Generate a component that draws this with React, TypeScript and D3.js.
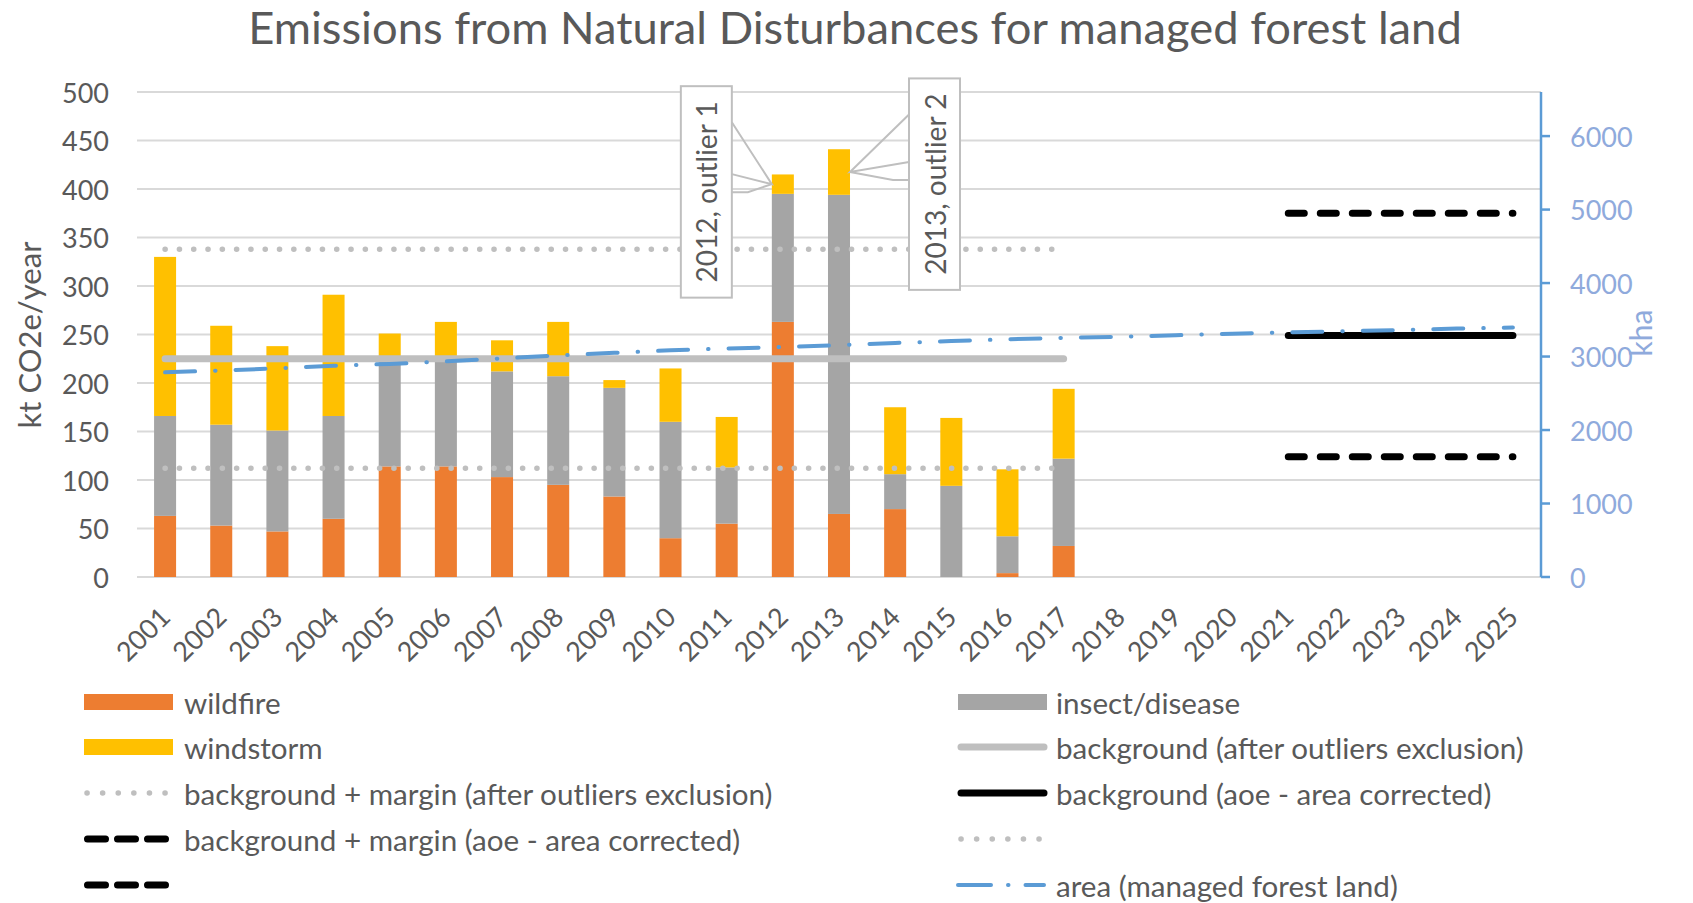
import React from 'react';
import * as d3 from 'd3';

// categories and values
const years = ['2001', '2002', '2003', '2004', '2005', '2006', '2007', '2008', '2009', '2010', '2011', '2012', '2013',
  '2014', '2015', '2016', '2017', '2018', '2019', '2020', '2021', '2022', '2023', '2024', '2025'];
const barYears = years.slice(0, 17);
const wildfire = [63, 53, 47, 60, 114, 114, 103, 95, 83, 40, 55, 263, 65, 70, 0, 4, 32];
const insectDisease = [103, 104, 104, 106, 110, 110, 109, 112, 112, 120, 58, 132, 329, 36, 94, 38, 90];
const windstorm = [164, 102, 87, 125, 27, 39, 32, 56, 8, 55, 52, 20, 47, 69, 70, 69, 72];
const areaKha = [2785, 2810, 2840, 2875, 2900, 2935, 2975, 3015, 3050, 3085, 3110, 3130, 3155, 3185, 3210, 3235,
  3255, 3270, 3290, 3310, 3330, 3345, 3360, 3380, 3395];

const bgExclusion = { from: '2001', to: '2017', value: 225, upper: 338, lower: 112 };
const bgAoe = { from: '2021', to: '2025', value: 249, upper: 375, lower: 124 };

const leftTicks = [0, 50, 100, 150, 200, 250, 300, 350, 400, 450, 500];
const rightTicks = [0, 1000, 2000, 3000, 4000, 5000, 6000];

const callouts = [
  { year: '2012', text: '2012, outlier 1', dx0: -102, dx1: -51, top: 506, bottom: 288 },
  { year: '2013', text: '2013, outlier 2', dx0: 70, dx1: 121, top: 514, bottom: 296 },
];

const W = 1693;
const H = 903;
const plot = { left: 137, right: 1541, top: 92, bottom: 577 };
const FONT = 'Lato, "Noto Sans", sans-serif';
const TEXT = '#595959';
const C = {
  wildfire: '#ED7D31',
  insect: '#A5A5A5',
  wind: '#FFC000',
  bg: '#BFBFBF',
  area: '#5B9BD5',
  axis2: '#8FAADC',
};

export default function App() {
  const x = d3.scaleBand().domain(years).range([plot.left, plot.right]).paddingInner(0.608).paddingOuter(0.304);
  const bw = x.bandwidth();
  const cx = (yr: string) => (x(yr) as number) + bw / 2;
  const y = d3.scaleLinear().domain([0, 500]).range([plot.bottom, plot.top]);
  const y2 = d3.scaleLinear().domain([0, 6600]).range([plot.bottom, plot.top]);

  const rows = barYears.map((yr, i) => ({ year: yr, wildfire: wildfire[i], insect: insectDisease[i], windstorm: windstorm[i] }));
  const stack = d3.stack<any>().keys(['wildfire', 'insect', 'windstorm'])(rows);
  const fills = [C.wildfire, C.insect, C.wind];

  const areaLine = d3.line<number>()
    .x((_, i) => cx(years[i]))
    .y(d => y2(d))(areaKha) as string;

  const hline = (b: { from: string; to: string }, v: number) =>
    d3.line<string>().x(d => cx(d)).y(() => y(v))([b.from, b.to]) as string;

  const dotted = { stroke: C.bg, strokeWidth: 5.5, strokeDasharray: '0.1 14.2', strokeLinecap: 'round' as const, fill: 'none' };
  const dashedBlack = { stroke: '#000', strokeWidth: 7, strokeDasharray: '16 16', strokeLinecap: 'round' as const, fill: 'none' };
  const dashDot = { stroke: C.area, strokeWidth: 4, strokeDasharray: '30 20 0.5 20', strokeLinecap: 'round' as const, fill: 'none' };

  const legendRows = [702, 747, 793, 839, 885];
  const legend = [
    { col: 0, row: 0, kind: 'rect', color: C.wildfire, label: 'wildfire' },
    { col: 1, row: 0, kind: 'rect', color: C.insect, label: 'insect/disease' },
    { col: 0, row: 1, kind: 'rect', color: C.wind, label: 'windstorm' },
    { col: 1, row: 1, kind: 'solidGray', label: 'background (after outliers exclusion)' },
    { col: 0, row: 2, kind: 'dotted', label: 'background + margin (after outliers exclusion)' },
    { col: 1, row: 2, kind: 'solidBlack', label: 'background (aoe - area corrected)' },
    { col: 0, row: 3, kind: 'dashed', label: 'background + margin (aoe - area corrected)' },
    { col: 1, row: 3, kind: 'dotted', label: '' },
    { col: 0, row: 4, kind: 'dashed', label: '' },
    { col: 1, row: 4, kind: 'dashDot', label: 'area (managed forest land)' },
  ];
  const colX = [84, 958];

  return (
    <svg width={W} height={H} style={{ position: 'absolute', left: 0, top: 0, background: '#fff' }} fontFamily={FONT}>
      <rect width={W} height={H} fill="#fff" />
      <text x={855} y={44} textAnchor="middle" fontSize={45.3} fill={TEXT}>
        Emissions from Natural Disturbances for managed forest land
      </text>

      {/* gridlines */}
      {leftTicks.map(t => (
        <line key={t} x1={plot.left} x2={plot.right} y1={y(t)} y2={y(t)} stroke="#D9D9D9" strokeWidth={2} />
      ))}

      {/* left axis labels */}
      {leftTicks.map(t => (
        <text key={'l' + t} x={109} y={y(t)} textAnchor="end" dominantBaseline="central" fontSize={27} fill={TEXT}>{t}</text>
      ))}
      <text transform={`translate(29,335) rotate(-90)`} textAnchor="middle" dominantBaseline="central" fontSize={31} fill={TEXT}>
        kt CO2e/year
      </text>

      {/* right axis */}
      <line x1={plot.right} x2={plot.right} y1={plot.top} y2={plot.bottom} stroke={C.area} strokeWidth={2.5} />
      {rightTicks.map(t => (
        <g key={'r' + t}>
          <line x1={plot.right} x2={plot.right + 9} y1={y2(t)} y2={y2(t)} stroke={C.area} strokeWidth={2.5} />
          <text x={1570} y={y2(t)} dominantBaseline="central" fontSize={27} fill={C.axis2}>{t}</text>
        </g>
      ))}
      <text transform={`translate(1640,333) rotate(-90)`} textAnchor="middle" dominantBaseline="central" fontSize={30} fill={C.axis2}>
        kha
      </text>

      {/* stacked bars */}
      {stack.map((s, si) => (
        <g key={si} fill={fills[si]}>
          {s.map((d, i) => (
            <rect key={i} x={x(barYears[i])} width={bw} y={y(d[1])} height={Math.max(0, y(d[0]) - y(d[1]))} />
          ))}
        </g>
      ))}

      {/* background lines */}
      <path d={hline(bgExclusion, bgExclusion.upper)} {...dotted} />
      <path d={hline(bgExclusion, bgExclusion.lower)} {...dotted} />
      <path d={hline(bgExclusion, bgExclusion.value)} stroke={C.bg} strokeWidth={7} strokeLinecap="round" fill="none" />
      <path d={hline(bgAoe, bgAoe.upper)} {...dashedBlack} />
      <path d={hline(bgAoe, bgAoe.lower)} {...dashedBlack} />
      <path d={hline(bgAoe, bgAoe.value)} stroke="#000" strokeWidth={7} strokeLinecap="round" fill="none" />

      {/* area on secondary axis */}
      <path d={areaLine} {...dashDot} />

      {/* x labels */}
      {years.map(yr => (
        <text key={yr} transform={`translate(${cx(yr) + 7},619) rotate(-45)`} textAnchor="end" fontSize={27} fill={TEXT}>{yr}</text>
      ))}

      {/* callouts */}
      {callouts.map((c, i) => {
        const k = barYears.indexOf(c.year);
        const cxx = cx(c.year);
        const bx0 = cxx + c.dx0;
        const bx1 = cxx + c.dx1;
        const top = y(c.top);
        const bot = y(c.bottom);
        const tipY = (y(wildfire[k] + insectDisease[k]) + y(wildfire[k] + insectDisease[k] + windstorm[k])) / 2;
        const right = c.dx0 < 0;
        const tipX = right ? cxx - bw / 2 : cxx + bw / 2;
        const edge = right ? bx1 : bx0;
        const sgn = right ? 1 : -1;
        const boxMid = (bx0 + bx1) / 2;
        return (
          <g key={i}>
            <rect x={bx0} y={top} width={bx1 - bx0} height={bot - top} fill="#fff" stroke={C.bg} strokeWidth={2} />
            <polyline points={`${edge},${top + 36} ${tipX},${tipY} ${edge},${tipY - 10}`} fill="none" stroke={C.bg} strokeWidth={2} />
            <polyline points={`${tipX},${tipY} ${edge + sgn * 16},${tipY + 8} ${edge},${tipY + 8}`} fill="none" stroke={C.bg} strokeWidth={2} />
            <text transform={`translate(${boxMid},${(top + bot) / 2}) rotate(-90)`} textAnchor="middle" dominantBaseline="central" fontSize={28} fill={TEXT}>
              {c.text}
            </text>
          </g>
        );
      })}

      {/* legend */}
      {legend.map((l, i) => {
        const lx = colX[l.col];
        const ly = legendRows[l.row];
        let sw: React.ReactNode = null;
        if (l.kind === 'rect') sw = <rect x={lx} y={ly - 8} width={89} height={16} fill={l.color} />;
        else if (l.kind === 'solidGray') sw = <line x1={lx + 3} x2={lx + 86} y1={ly} y2={ly} stroke={C.bg} strokeWidth={7} strokeLinecap="round" />;
        else if (l.kind === 'solidBlack') sw = <line x1={lx + 3} x2={lx + 86} y1={ly} y2={ly} stroke="#000" strokeWidth={7} strokeLinecap="round" />;
        else if (l.kind === 'dotted') sw = <line x1={lx + 3} x2={lx + 86} y1={ly} y2={ly} {...dotted} strokeDasharray="0.1 15.5" />;
        else if (l.kind === 'dashed') sw = <line x1={lx + 3.5} x2={lx + 86} y1={ly} y2={ly} {...dashedBlack} strokeDasharray="18 12" />;
        else if (l.kind === 'dashDot') sw = <line x1={lx} x2={lx + 86} y1={ly} y2={ly} {...dashDot} strokeDasharray="33 17 0.5 17" />;
        return (
          <g key={i}>
            {sw}
            {l.label && (
              <text x={l.col === 0 ? 184 : 1056} y={ly} dominantBaseline="central" fontSize={29.6} fill={TEXT}>{l.label}</text>
            )}
          </g>
        );
      })}
    </svg>
  );
}
